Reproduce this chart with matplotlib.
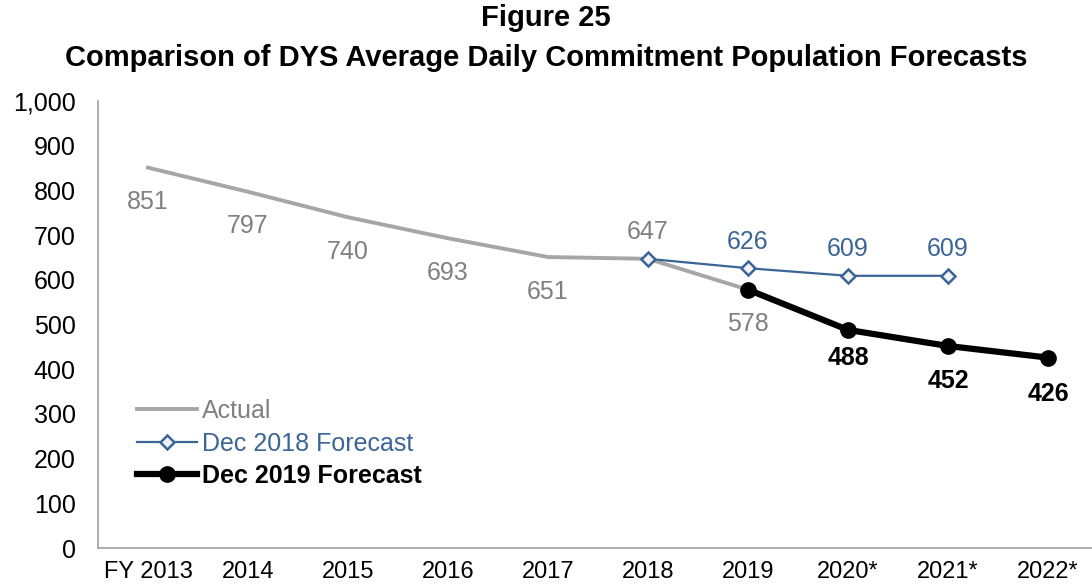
import numpy as np
import matplotlib.pyplot as plt

plt.rcParams['font.family'] = ['Liberation Sans', 'DejaVu Sans']

years = ['FY 2013', '2014', '2015', '2016', '2017', '2018', '2019', '2020*', '2021*', '2022*']
actual = [851, 797, 740, 693, 651, 647, 578]
fc2018 = [647, 626, 609, 609]
fc2019 = [578, 488, 452, 426]
fc2018_x = [5, 6, 7, 8]
fc2019_x = [6, 7, 8, 9]

gray_line = '#a6a6a6'
gray_text = '#808080'
blue = '#3b6597'
fs = 18

fig = plt.figure(figsize=(10.92, 5.85), dpi=100)
ax = fig.add_axes([0.0897, 0.0632, 0.9158, 0.7641])

ax.plot(range(len(actual)), actual, color=gray_line, lw=2.8, label='Actual', zorder=2)
ax.plot(fc2018_x, fc2018, color=blue, lw=1.6, marker='D', ms=7.5, mfc='#f2f2f2',
        mec=blue, mew=1.8, label='Dec 2018 Forecast', zorder=3)
ax.plot(fc2019_x, fc2019, color='black', lw=4.5, marker='o', ms=11,
        label='Dec 2019 Forecast', zorder=4)

# data labels (offset in points from the marker)
act_off = [-25, -25, -25, -25, -25, 19, -25]
for i, (v, off) in enumerate(zip(actual, act_off)):
    ax.annotate(str(v), (i, v), xytext=(0, off), textcoords='offset points',
                ha='center', va='center', fontsize=fs, color=gray_text)
for x, v in zip(fc2018_x[1:], fc2018[1:]):
    ax.annotate(str(v), (x, v), xytext=(0, 19), textcoords='offset points',
                ha='center', va='center', fontsize=fs, color=blue)
for x, v, off in zip(fc2019_x[1:], fc2019[1:], [-20, -25, -26]):
    ax.annotate(str(v), (x, v), xytext=(0, off), textcoords='offset points',
                ha='center', va='center', fontsize=fs, color='black', fontweight='bold')

ax.set_xlim(-0.5, 9.5)
ax.set_ylim(0, 1000)
ax.set_yticks(np.arange(0, 1001, 100))
ax.set_yticklabels([f'{t:,}' for t in range(0, 1001, 100)])
ax.set_xticks(range(len(years)))
ax.set_xticklabels(years)
ax.tick_params(axis='both', length=0, labelsize=fs)
ax.tick_params(axis='x', pad=9, labelsize=17)
ax.tick_params(axis='y', pad=16)

for s in ['top', 'right']:
    ax.spines[s].set_visible(False)
for s in ['left', 'bottom']:
    ax.spines[s].set_color('#a0a0a0')
    ax.spines[s].set_linewidth(1.2)

leg = ax.legend(loc='upper left', bbox_to_anchor=(0.039, 0.333), frameon=False,
                fontsize=fs, handlelength=2.4, handletextpad=0.2, labelspacing=0.34,
                borderaxespad=0, borderpad=0)
for txt, c in zip(leg.get_texts(), [gray_text, blue, 'black']):
    txt.set_color(c)
leg.get_texts()[2].set_fontweight('bold')

fig.text(0.5, 1 - 18 / 585, 'Figure 25', ha='center', va='center', fontsize=21, fontweight='bold')
fig.text(0.5, 1 - 58 / 585, 'Comparison of DYS Average Daily Commitment Population Forecasts',
         ha='center', va='center', fontsize=21, fontweight='bold')

fig.savefig('out.png', dpi=100)
